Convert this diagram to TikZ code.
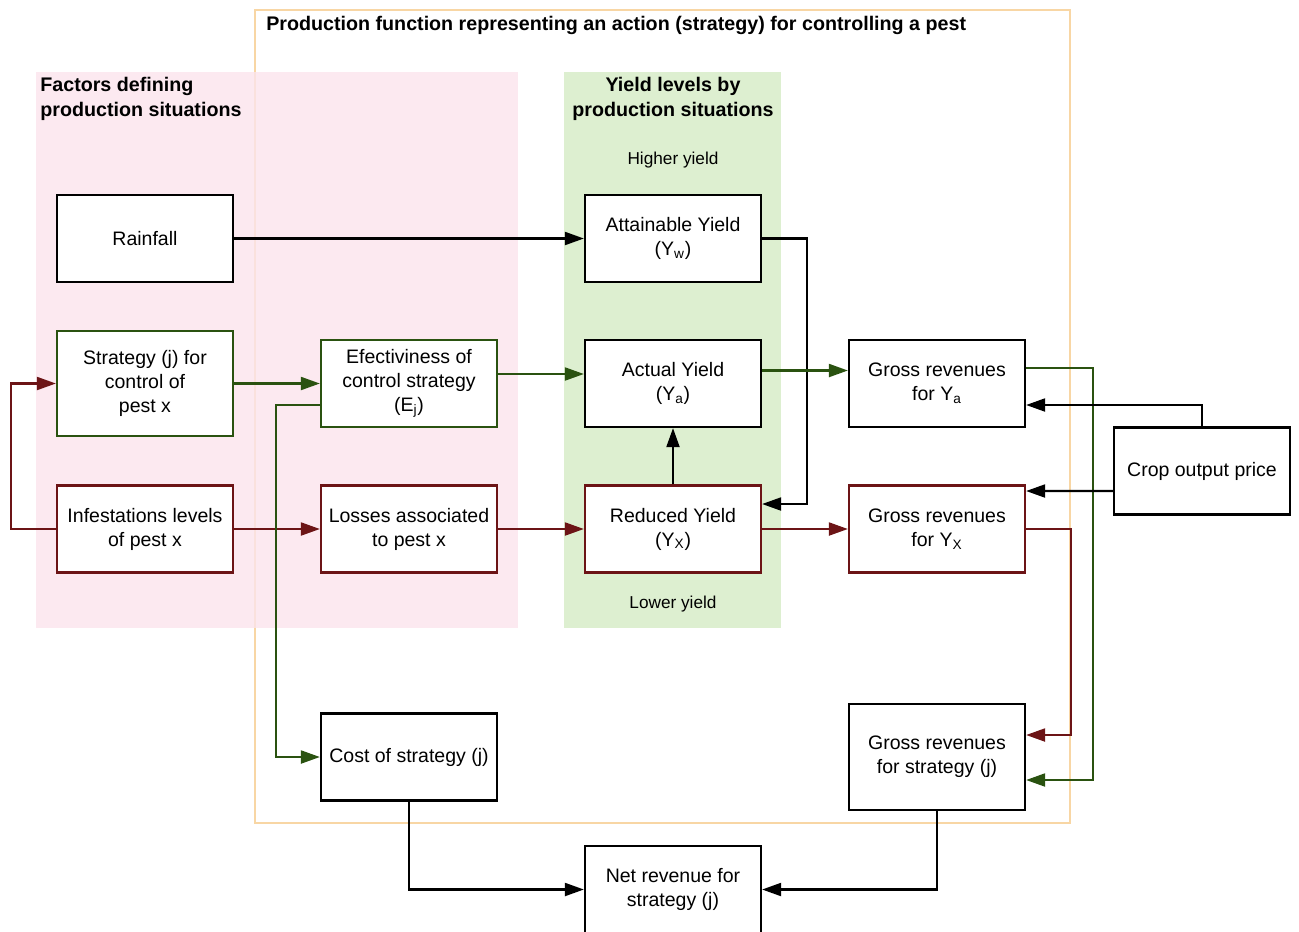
\documentclass[tikz,border=0pt]{standalone}
\usepackage{fontspec}
\setmainfont{Liberation Sans}
\usetikzlibrary{arrows.meta}
\definecolor{darkgreen}{RGB}{42,82,16}
\definecolor{darkred}{RGB}{108,20,22}
\definecolor{pinkbg}{RGB}{251,228,236}
\definecolor{greenbg}{RGB}{221,239,208}
\definecolor{framecol}{RGB}{248,214,164}
\newcommand{\boxfont}{\fontsize{11.1}{13.6}\selectfont}
\begin{document}
\begin{tikzpicture}[x=0.02cm, y=-0.02cm,
	mybox/.style={draw=#1, line width=1.3pt, fill=white, minimum width=3.52cm, minimum height=1.74cm, inner sep=2pt, align=center, font=\boxfont},
	myarrow/.style={draw=#1, line width=1.2pt, -{Triangle[length=0.38cm, width=0.26cm]}},
	heading/.style={font=\fontsize{11.2}{13.9}\selectfont\bfseries, inner sep=0pt, align=#1},
	levelnote/.style={font=\fontsize{9.8}{12}\selectfont, inner sep=0pt}]
	\useasboundingbox (0,0) rectangle (1299,931);
	\draw[framecol, line width=1.4pt] (255,10) rectangle (1070,823);
	\fill[pinkbg, fill opacity=0.8] (36,72) rectangle (518,628);
	\fill[greenbg] (564,72) rectangle (781,628);
	\node[heading=left, anchor=west] (title) at (266,25) {Production function representing an action (strategy) for controlling a pest};
	\node[heading=left, anchor=west] (factors) at (40,99) {Factors defining\\production situations};
	\node[heading=center] (levels) at (673,99) {Yield levels by\\production situations};
	\node[levelnote] (higher) at (673,160) {Higher yield};
	\node[levelnote] (lower) at (673,604) {Lower yield};
	\node[mybox=black] (rain) at (145,238.5) {Rainfall};
	\node[mybox=darkgreen, minimum height=2.1cm] (strat) at (145,383.5) {Strategy (j) for\\control of\\pest x};
	\node[mybox=darkred] (infest) at (145,529) {Infestations levels\\of pest x};
	\node[mybox=darkgreen] (effect) at (409,383.5) {Efectiviness of\\control strategy\\(E\textsubscript{j})};
	\node[mybox=darkred] (losses) at (409,529) {Losses associated\\to pest x};
	\node[mybox=black] (attain) at (673,238.5) {Attainable Yield\\(Y\textsubscript{w})};
	\node[mybox=black] (actual) at (673,383.5) {Actual Yield\\(Y\textsubscript{a})};
	\node[mybox=darkred] (reduced) at (673,529) {Reduced Yield\\(Y\textsubscript{X})};
	\node[mybox=black] (grossa) at (937,383.5) {Gross revenues\\for Y\textsubscript{a}};
	\node[mybox=darkred] (grossx) at (937,529) {Gross revenues\\for Y\textsubscript{X}};
	\node[mybox=black] (price) at (1202,471) {Crop output price};
	\node[mybox=black] (cost) at (409,757) {Cost of strategy (j)};
	\node[mybox=black, minimum height=2.12cm] (grossj) at (937,757) {Gross revenues\\for strategy (j)};
	\node[mybox=black] (net) at (673,889.5) {Net revenue for\\strategy (j)};
	\draw[myarrow=black] (rain) -- (attain);
	\draw[myarrow=darkgreen] (strat) -- (effect);
	\draw[myarrow=darkred] (infest) -- (losses);
	\draw[myarrow=darkred] (infest.west) -- ++(-45,0) |- (strat.west);
	\draw[myarrow=darkgreen] ([yshift=-0.43cm]effect.west) -- ++(-44,0) |- (cost.west);
	\draw[myarrow=darkgreen] ([yshift=0.19cm]effect.east) -- ([yshift=0.19cm]actual.west);
	\draw[myarrow=darkred] (losses) -- (reduced);
	\draw[myarrow=black] (attain.east) -- ++(45,0) |- ([yshift=0.5cm]reduced.east);
	\draw[myarrow=black] (reduced) -- (actual);
	\draw[myarrow=darkgreen] ([yshift=0.26cm]actual.east) -- ([yshift=0.26cm]grossa.west);
	\draw[myarrow=darkred] (reduced) -- (grossx);
	\draw[myarrow=darkgreen] ([yshift=0.31cm]grossa.east) -- ++(67,0) |- ([yshift=-0.46cm]grossj.east);
	\draw[myarrow=black] (price.north) |- ([yshift=-0.43cm]grossa.east);
	\draw[myarrow=black] ([yshift=-0.4cm]price.west) -- ([yshift=0.76cm]grossx.east);
	\draw[myarrow=darkred] (grossx.east) -- ++(45,0) |- ([yshift=0.44cm]grossj.east);
	\draw[myarrow=black] (cost.south) |- (net.west);
	\draw[myarrow=black] (grossj.south) |- (net.east);
\end{tikzpicture}
\end{document}
